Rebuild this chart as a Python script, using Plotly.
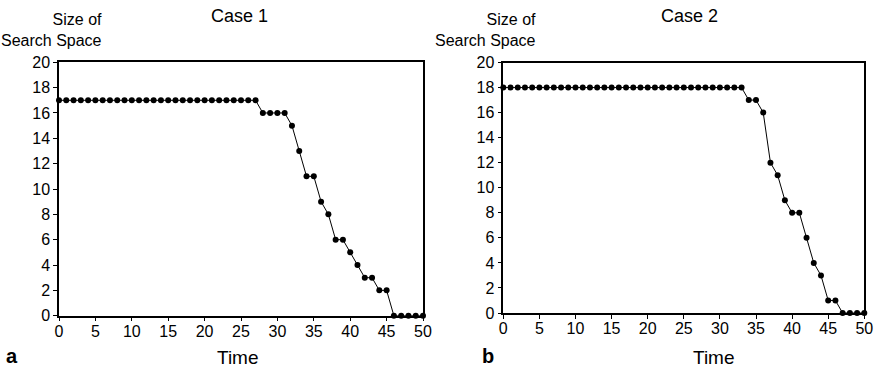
import plotly.graph_objects as go

time = list(range(0, 51))
case1 = [17] * 28 + [16, 16, 16, 16, 15, 13, 11, 11, 9, 8, 6, 6, 5, 4, 3, 3, 2, 2, 0, 0, 0, 0, 0]
case2 = [18] * 34 + [17, 17, 16, 12, 11, 9, 8, 8, 6, 4, 3, 1, 1, 0, 0, 0, 0]
x_ticks = [0, 5, 10, 15, 20, 25, 30, 35, 40, 45, 50]
y_ticks = [0, 2, 4, 6, 8, 10, 12, 14, 16, 18, 20]

W, H = 880, 370
FONT = "Liberation Sans, Arial, sans-serif"

def px(x):
    return x / W

def py(y):
    return 1 - y / H

fig = go.Figure()
for vals, xa, ya in [(case1, "x", "y"), (case2, "x2", "y2")]:
    fig.add_trace(go.Scatter(
        x=time, y=vals, mode="lines+markers", xaxis=xa, yaxis=ya,
        line=dict(color="black", width=1),
        marker=dict(color="black", size=6),
        cliponaxis=False, showlegend=False,
    ))

axis_common = dict(
    showgrid=False, zeroline=False, showline=True, linecolor="black", linewidth=1.5,
    mirror=True, ticks="outside", ticklen=4, tickwidth=1, tickcolor="black",
    automargin=False,
    tickfont=dict(family=FONT, size=16, color="black"),
)
x_extra = dict(ticklabelstandoff=-4)

fig.update_layout(
    width=W, height=H, margin=dict(l=0, r=0, t=0, b=0),
    paper_bgcolor="white", plot_bgcolor="white",
    xaxis=dict(domain=[px(59), px(423)], range=[0, 50], tickvals=x_ticks, anchor="y", **axis_common, **x_extra),
    yaxis=dict(domain=[py(315.7), py(62.3)], range=[0, 20], tickvals=y_ticks, anchor="x", **axis_common),
    xaxis2=dict(domain=[px(503.3), px(864.3)], range=[0, 50], tickvals=x_ticks, anchor="y2", **axis_common, **x_extra),
    yaxis2=dict(domain=[py(313), py(62.5)], range=[0, 20], tickvals=y_ticks, anchor="x2", **axis_common),
)

ann = [
    dict(text="Case 1", x=px(240), y=py(16), size=18),
    dict(text="Case 2", x=px(689), y=py(16), size=18),
    dict(text="Time", x=px(238), y=py(357), size=19),
    dict(text="Time", x=px(714), y=py(357), size=19),
]
for a in ann:
    fig.add_annotation(text=a["text"], x=a["x"], y=a["y"], xref="paper", yref="paper",
                       xanchor="center", yanchor="middle", showarrow=False,
                       font=dict(family=FONT, size=a["size"], color="black"))

for xr in [104, 538]:
    fig.add_annotation(text="Size of<br>Search Space", x=px(xr), y=py(30), xref="paper", yref="paper",
                       xanchor="right", yanchor="middle", align="right", showarrow=False,
                       font=dict(family=FONT, size=16, color="black"))

for lab, xl in [("a", 4), ("b", 480)]:
    fig.add_annotation(text="<b>%s</b>" % lab, x=px(xl), y=py(356), xref="paper", yref="paper",
                       xanchor="left", yanchor="middle", showarrow=False,
                       font=dict(family=FONT, size=20, color="black"))

fig.write_html(
    "out.html",
    config={"displayModeBar": False},
    post_script="document.body.style.margin='0';document.body.style.padding='0';document.body.style.overflow='hidden';",
)
